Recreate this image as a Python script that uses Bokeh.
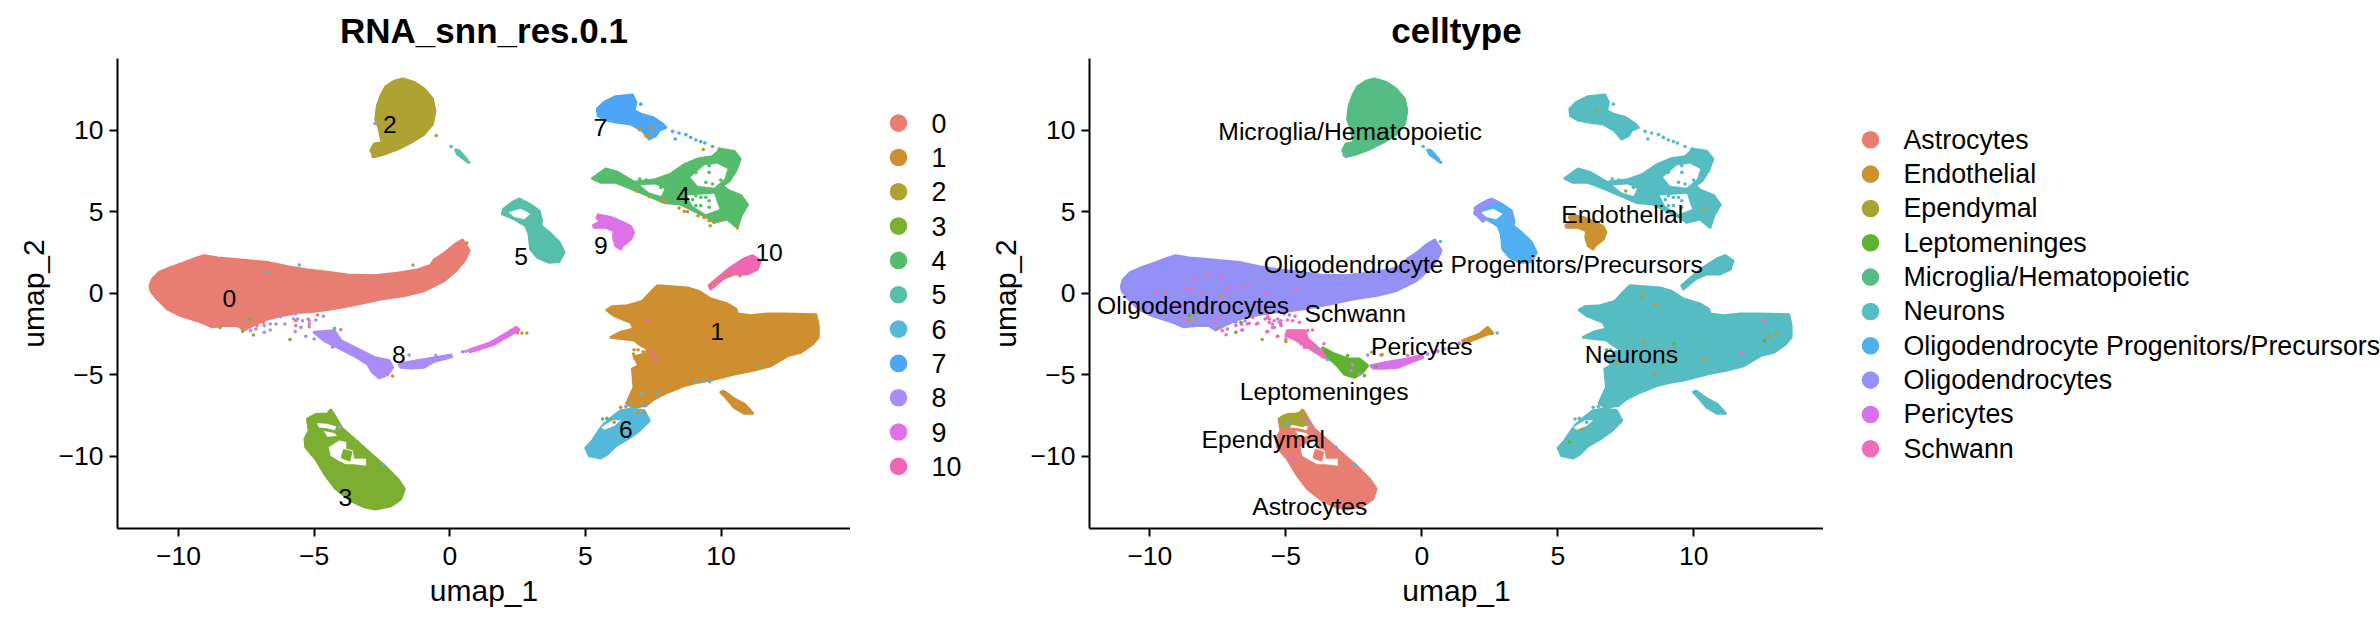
from bokeh.embed import file_html
from bokeh.resources import INLINE
from bokeh.plotting import figure
from bokeh.layouts import row
from bokeh.models import Range1d, FixedTicker
from bokeh.core.properties import value

FONT = "Liberation Sans"
X_TICKS = [-10, -5, 0, 5, 10]
Y_TICKS = [-10, -5, 0, 5, 10]

# ---- cluster outlines, in umap units ----
OUT_0 = [(-11.05,.46),(-10.96,.87),(-10.71,1.28),(-10.28,1.58),(-9.85,1.83),(-9.42,2.10),(-9.06,2.30),(-8.56,2.16),(-7.70,2.03),(-6.72,1.89),(-5.98,1.63),(-5.25,1.42),(-4.51,1.28),(-3.77,1.11),(-2.79,1.07),(-1.93,1.22),(-1.19,1.42),(-.72,1.69),(-.58,2.03),(-.15,2.51),(.22,3.02),(.47,3.26),(.71,2.61),(.53,1.99),(.22,1.38),(-.21,.77),(-.95,.15),(-1.68,-.15),(-2.54,-.36),(-3.40,-.66),(-4.39,-.97),(-5.00,-1.11),(-5.61,-1.18),(-6.23,-1.38),(-6.72,-1.58),(-7.21,-1.93),(-7.58,-2.26),(-7.83,-1.99),(-8.32,-1.99),(-8.75,-2.06),(-9.30,-1.69),(-9.92,-1.38),(-10.41,-.97),(-10.78,-.36),(-11.02,.15)]
OUT_1 = [(5.79,-1.03),(5.99,-.83),(6.55,-.77),(7.10,-.50),(7.41,.05),(7.65,.46),(8.15,.40),(8.76,.32),(9.19,.11),(9.62,-.36),(10.23,-.66),(10.54,-.97),(10.60,-1.28),(11.10,-1.38),(11.71,-1.28),(12.32,-1.28),(13.49,-1.32),(13.58,-1.99),(13.58,-2.71),(13.37,-3.12),(12.94,-3.63),(12.45,-3.83),(11.83,-4.45),(11.22,-4.71),(10.48,-4.96),(9.62,-5.33),(9.13,-5.47),(8.64,-5.67),(8.02,-6.08),(7.53,-6.49),(7.22,-6.90),(6.73,-7.0),(6.52,-6.76),(6.79,-5.78),(6.73,-4.65),(6.98,-4.45),(6.79,-3.90),(7.22,-3.73),(7.29,-3.43),(6.98,-3.12),(6.79,-2.87),(5.94,-2.71),(6.30,-2.40),(6.79,-2.20),(6.67,-1.79),(6.06,-1.38)]
OUT_1B = [(9.99,-6.08),(10.09,-6.02),(10.48,-6.49),(10.85,-6.80),(11.16,-7.37),(10.85,-7.37),(10.48,-7.0),(10.23,-6.49)]
OUT_2 = [(-2.54,12.12),(-2.36,12.67),(-2.05,13.0),(-1.74,13.14),(-1.31,12.93),(-.95,12.53),(-.64,11.91),(-.55,11.2),(-.64,10.38),(-.95,9.76),(-1.44,9.25),(-1.93,8.84),(-2.48,8.5),(-2.79,8.38),(-2.91,8.74),(-2.79,9.15),(-2.48,9.25),(-2.54,9.52),(-2.60,10.07),(-2.73,10.68),(-2.67,11.5)]
OUT_3 = [(-5.25,-7.72),(-4.94,-7.45),(-4.51,-7.41),(-4.39,-7.17),(-4.29,-7.41),(-3.96,-8.33),(-3.46,-9.05),(-2.91,-9.87),(-2.42,-10.58),(-1.93,-11.40),(-1.68,-12.01),(-1.81,-12.63),(-2.17,-13.04),(-2.73,-13.24),(-3.16,-13.10),(-3.65,-12.73),(-4.20,-12.01),(-4.57,-11.20),(-4.94,-10.17),(-5.31,-9.46),(-5.34,-8.95),(-5.18,-8.44),(-5.22,-8.03)]
OUT_4 = [(5.26,7.04),(5.75,7.62),(6.18,7.41),(6.49,7.11),(6.79,6.80),(7.53,6.94),(8.15,7.31),(8.64,7.88),(9.13,8.23),(9.68,8.37),(9.99,8.84),(10.48,8.70),(10.70,8.23),(10.54,7.52),(10.30,6.90),(10.05,6.60),(10.23,6.33),(10.73,5.98),(10.97,5.43),(10.73,4.75),(10.60,4.04),(10.23,4.55),(9.74,4.35),(9.50,4.65),(9.01,5.06),(8.51,5.47),(7.90,5.57),(7.47,5.88),(7.04,6.19),(6.55,6.53),(6.12,6.80),(5.57,6.80)]
OUT_5 = [(1.98,5.16),(2.31,5.57),(2.56,5.78),(2.92,5.47),(3.29,5.06),(3.38,4.45),(3.35,4.14),(3.72,3.63),(4.03,3.12),(4.21,2.50),(4.03,1.95),(3.66,1.89),(3.23,2.20),(2.98,2.71),(2.92,3.63),(2.80,4.14),(2.49,4.45),(2.25,4.65),(1.94,4.86)]
OUT_5B = [(.22,8.78),(.34,8.74),(.63,8.19),(.60,8.13),(.28,8.54)]
OUT_6 = [(5.01,-9.50),(5.26,-9.05),(5.50,-8.44),(5.69,-8.03),(6.06,-7.52),(6.30,-7.21),(6.73,-7.11),(7.16,-7.21),(7.35,-7.82),(6.98,-8.44),(6.55,-8.95),(6.12,-9.36),(5.81,-9.87),(5.56,-10.11),(5.14,-9.97)]
OUT_7 = [(5.44,11.30),(5.69,11.71),(6.12,12.06),(6.73,12.16),(6.86,11.71),(6.79,11.20),(7.04,10.99),(7.47,10.79),(7.84,10.38),(7.96,10.17),(7.72,10.01),(7.59,9.66),(7.35,9.46),(7.10,9.97),(6.67,10.38),(6.18,10.48),(5.75,10.62),(5.47,10.89)]
OUT_8_STEM = [(-5.00,-2.40),(-4.26,-2.30),(-4.02,-2.91),(-3.40,-3.43),(-2.79,-3.94),(-2.24,-4.14),(-2.11,-4.55),(-2.30,-5.0),(-2.60,-5.20),(-2.85,-4.86),(-3.03,-4.35),(-3.53,-3.83),(-4.14,-3.32),(-4.63,-2.91)]
OUT_8_TAIL = [(-1.87,-4.35),(-1.19,-4.14),(-.58,-3.98),(.04,-3.79),(.06,-3.90),(-.58,-4.18),(-.95,-4.55),(-1.44,-4.59),(-1.81,-4.55)]
OUT_9_LINE = [(.7,-3.5),(1.5,-3.05),(2.45,-2.1),(2.55,-2.25),(1.6,-3.15),(.75,-3.6)]
OUT_9 = [(5.47,4.80),(5.93,4.65),(6.36,4.35),(6.67,4.08),(6.77,3.73),(6.67,3.32),(6.36,2.91),(6.30,2.71),(6.12,2.91),(6.03,3.43),(6.06,3.83),(5.75,4.04),(5.32,4.04),(5.30,4.18),(5.54,4.35),(5.42,4.65)]
OUT_10 = [(9.56,.46),(9.99,1.07),(10.36,1.58),(10.85,2.10),(11.16,2.30),(11.44,1.99),(11.34,1.48),(10.97,1.18),(10.48,1.18),(10.05,.87),(9.62,.26)]

# celltype panel: sub-parts of the same clouds
SUB_SCHWANN = [(-4.94,-2.30),(-4.32,-2.30),(-4.20,-2.81),(-3.71,-3.53),(-3.40,-4.04),(-3.59,-3.94),(-4.08,-3.43),(-4.69,-2.81),(-5.0,-2.61)]
SUB_LEPTO = [(-3.65,-3.36),(-3.22,-3.73),(-2.73,-4.04),(-2.30,-4.04),(-1.99,-4.45),(-2.18,-4.86),(-2.48,-5.16),(-2.85,-4.96),(-3.10,-4.45),(-3.40,-3.98)]
SUB_PERI = [(-1.87,-4.45),(-1.26,-4.24),(-.52,-4.04),(-.03,-3.83),(.03,-3.94),(-.52,-4.30),(-.89,-4.55),(-1.38,-4.61),(-1.81,-4.59)]
SUB_ENDO_TAIL = [(1.50,-2.91),(2.12,-2.51),(2.42,-2.10),(2.61,-2.46),(2.42,-2.51),(2.18,-2.67),(1.56,-3.08)]
SUB_EPEND = [(-5.24,-7.72),(-5.06,-7.52),(-4.69,-7.46),(-4.51,-7.37),(-4.32,-7.52),(-4.20,-7.99),(-4.38,-8.13),(-4.75,-7.99),(-5.06,-8.23),(-5.15,-8.07)]
SUB_OLIGO_ARC = [(1.96,5.23),(2.18,5.47),(2.49,5.73),(2.73,5.63),(2.49,5.47),(2.24,5.27),(2.12,4.86),(2.36,4.55),(2.24,4.41),(1.99,4.86)]

# empty regions inside the clouds
HOLE_3A = [(-4.88,-7.99),(-4.51,-8.03),(-4.20,-8.19),(-4.24,-8.39),(-4.53,-8.27),(-4.82,-8.23)]
HOLE_3C = [(-4.63,-8.48),(-4.26,-8.60),(-4.17,-8.74),(-4.51,-8.80)]
HOLE_3B = [(-4.45,-9.46),(-4.08,-9.05),(-3.83,-9.15),(-3.83,-9.56),(-3.59,-9.66),(-3.53,-10.17),(-3.10,-10.17),(-3.10,-10.58),(-3.53,-10.48),(-3.83,-10.48),(-4.08,-10.28),(-4.39,-9.97)]
HOLE_4A = [(8.88,7.11),(9.37,7.82),(9.86,7.93),(10.23,7.62),(10.11,7.0),(9.74,6.49),(9.13,6.60)]
HOLE_4B = [(8.76,5.98),(9.74,6.08),(9.93,5.16),(9.44,4.86),(8.95,5.37)]
HOLE_4C = [(7.04,6.60),(7.59,6.66),(7.90,6.39),(7.78,5.98),(7.35,6.19)]
HOLE_5 = [(2.19,4.96),(2.62,5.16),(2.96,4.86),(2.74,4.55),(2.37,4.69)]
HOLE_6 = [(5.59,-8.23),(5.99,-7.82),(6.28,-7.82),(6.06,-8.13),(5.69,-8.37)]
HOLES = [HOLE_3A, HOLE_3B, HOLE_3C, HOLE_4A, HOLE_4B, HOLE_4C, HOLE_5, HOLE_6]
ISLAND_3 = [(-3.89,-9.66),(-3.65,-9.77),(-3.71,-10.23),(-3.96,-10.07)]

# ---- scattered single cells ----
DOTS_8 = [(-7.34,-2.30),(-7.15,-2.20),(-6.84,-2.40),(-6.62,-2.26),(-6.84,-1.99),(-6.62,-1.89),(-6.41,-1.89),(-6.08,-1.89),(-6.25,-1.44),(-5.68,-1.28),(-5.61,-1.58),(-5.76,-1.58),(-5.43,-1.69),(-5.18,-1.69),(-4.94,-1.65),(-4.66,-1.42),(-5.18,-1.89),(-5.70,-2.36),(-5.49,-2.10),(-5.31,-2.65),(-5.00,-2.81),(-4.32,-3.32),(-1.50,-3.79),(-.52,-3.83),(.47,-3.59),(.59,-3.57)]
DOTS_0 = [(-6.87,-1.79),(-7.11,-1.99),(-5.68,-1.69),(-5.22,-1.58),(-4.88,-1.34),(-4.02,-2.24),(-5.68,-1.99),(-5.18,-2.06)]
DOTS_3 = [(-8.47,-2.10),(-7.64,-2.34),(-7.24,-2.57),(-5.89,-2.85),(-7.37,-1.61)]
DOTS_5 = [(-5.55,1.73),(-6.71,1.28),(-4.25,-2.16),(-2.44,-10.55),(.05,9.0),(.69,8.03)]
DOTS_2 = [(-1.36,1.73),(-.50,9.68)]
DOTS_1 = [(-2.11,-5.09),(.63,3.08),(2.49,-2.44),(2.66,-2.44),(2.84,-2.44),(7.0,10.03),(7.22,9.66),(7.35,9.6),(7.43,10.17),(9.34,8.82),(7.35,5.92),(7.78,5.67),(7.96,5.63),(8.45,5.22),(8.64,5.02),(8.76,5.0),(9.15,4.75),(9.37,4.65),(9.56,4.45),(9.74,4.35),(9.60,4.14),(9.99,4.49),(10.60,4.02),(6.89,6.25),(9.62,.46),(9.81,.77),(10.12,1.03),(10.36,1.11),(10.70,1.07),(6.79,-3.47),(6.94,-3.47),(7.13,-3.59),(6.77,-3.73),(6.30,-7.0),(6.49,-6.96),(6.86,-6.84),(6.92,-7.31),(7.14,-7.31),(6.06,-7.92)]
DOTS_7 = [(7.04,11.6),(8.21,9.93),(8.45,9.83),(8.31,9.46),(8.70,9.73),(8.88,9.56),(9.07,9.4),(9.25,9.3),(9.40,9.21),(6.61,-6.80),(7.19,-6.90)]
DOTS_4 = [(9.56,7.82),(9.56,7.41),(9.07,7.41),(9.68,6.70),(9.99,6.94),(9.44,6.80),(9.07,5.98),(9.25,5.88),(8.95,5.74),(9.56,5.67),(9.07,5.37),(9.25,5.37),(9.56,5.27),(9.44,5.88),(7.0,7.0),(7.24,6.94),(7.63,6.74),(7.78,6.49),(9.68,9.0),(9.93,8.84),(5.63,-7.72),(5.79,-7.68),(5.94,-7.72),(11.4,-4.55)]
DOTS_6 = [(9.58,-5.43),(9.31,-5.31),(9.07,-5.47),(7.08,-6.19),(7.63,-6.13)]
DOTS_10 = [(7.29,-1.69),(7.38,-3.57),(7.53,-3.83),(7.59,-4.14)]
DOTS_8B = [(-2.75,10.42),(-4.05,-8.23)]
DOTS_0B = [(-2.83,8.39)]

DOTS_SCHWANN = [(-8.37,.87),(-7.88,1.18),(-7.39,.97),(-8.68,.26),(-8.49,.26),(-8.06,-.05),(-7.17,.15),(-7.05,.52),(-6.68,.40),(-6.43,.42),(-5.73,-.01),(-4.63,.21),(-9.72,.05),(-9.41,.05),(-9.04,-.66),(-8.74,-.83),(-8.80,-1.58),(-8.06,-.77),(-7.39,-.56),(-8.62,-1.69),(-7.69,-1.69),(-7.51,-1.58),(-7.2,-2.55),(-6.59,-2.26),(-6.63,-1.89),(-6.35,-1.85),(-6.04,-1.85),(-6.22,-1.48),(-5.67,-1.48),(-5.61,-1.79),(-5.30,-1.58),(-5.06,-1.28),(-4.75,-1.69),(-4.50,-1.79),(-5.18,-1.99),(-5.43,-2.10),(-5.67,-2.36),(-5.30,-2.65),(-4.02,-2.26),(-4.20,-2.30),(-4.44,-3.12),(-4.26,-3.32),(12.57,-1.71),(11.76,-3.66),(-4.78,-10.07),(-4.36,-7.75),(-3.6,-3.1)]
DOTS_OLIGO = [(-6.84,-1.79),(-5.49,-1.89),(-5.24,-1.79),(-4.87,-1.34),(-1.99,-3.79),(-2.85,8.47),(-3.95,-8.49),(-4.14,-7.93),(-3.16,-9.46),(-6.5,-1.7)]
DOTS_LEPTO = [(-6.65,-1.79),(-8.55,-1.38),(-8.27,-1.18),(-2.73,-3.83),(-2.11,-5.06),(-1.69,-4.51),(-3.10,-3.83),(8.87,-4.32),(9.27,-3.1),(12.6,-2.93),(5.43,-9.15)]
DOTS_EPEND = [(-6.84,-2.40),(-5.87,-2.85),(-8.31,-1.58),(-5.0,-2.96),(-4.36,-7.25),(6.44,11.18)]
DOTS_ENDO = [(-8.55,-1.69),(-7.51,-2.14),(-7.39,-.15),(-1.84,-3.63),(-1.46,-3.77),(8.07,-.2),(8.6,-.73),(8.13,-3.0),(7.16,-4.32),(8.55,-4.96),(10.35,-4.1),(10.39,5.2),(7.5,6.27),(12.76,-2.64),(13.03,-2.51),(5.89,-8.37)]
DOTS_OPC = [(-9.46,1.54),(-2.45,-10.55),(-4.96,-7.99),(9.5,-2.76),(.05,9.0),(.69,8.03)]
DOTS_NEU = [(-3.46,-4.08),(-3.91,-3.43),(2.77,-2.44),(.68,3.17)]
DOTS_PERI = [(.83,-3.43),(1.38,-3.08),(.52,-3.53),(.21,-3.73),(3.25,4.79),(5.34,4.08),(-2.6,-4.75),(-2.3,-5.0),(-2.55,-4.4)]

# ---- legends and labels ----
CLUSTERS = ["0","1","2","3","4","5","6","7","8","9","10"]
CLUSTER_COLORS = ["#E87D72","#CF8F30","#AEA232","#7CAE32","#55BC6B","#57BFA9","#53B8DA","#4DA5F6","#A98CF6","#DE71E7","#EF67B2"]
CLUSTER_LABEL_X = [-8.13,9.85,-2.21,-3.85,8.60,2.63,6.49,5.55,-1.88,5.57,11.77]
CLUSTER_LABEL_Y = [-.32,-2.37,10.38,-12.52,5.98,2.25,-8.37,10.18,-3.74,2.93,2.51]

CELLTYPES = ["Astrocytes","Endothelial","Ependymal","Leptomeninges","Microglia/Hematopoietic","Neurons","Oligodendrocyte Progenitors/Precursors","Oligodendrocytes","Pericytes","Schwann"]
CELL_COLORS = ["#E87D72","#CC9230","#A4A62F","#5FB22F","#55BC83","#55BCC2","#4FAFF0","#9590F5","#D871EB","#EE6CB8"]
CELL_LABEL_X = [-4.12,7.37,-5.83,-3.59,-2.64,7.71,2.26,-8.41,0.0,-2.45]
CELL_LABEL_Y = [-13.11,4.81,-8.96,-6.03,9.94,-3.74,1.78,-.78,-3.30,-1.22]

C = dict(zip(CLUSTERS, CLUSTER_COLORS))
AST, END, EPE, LEP, MIC, NEU, OPC, OLI, PER, SCH = CELL_COLORS

LEFT_SHAPES = [(OUT_0,C["0"]),(OUT_1,C["1"]),(OUT_1B,C["1"]),(OUT_2,C["2"]),(OUT_3,C["3"]),(OUT_4,C["4"]),(OUT_5,C["5"]),(OUT_5B,C["5"]),(OUT_6,C["6"]),(OUT_7,C["7"]),(OUT_8_STEM,C["8"]),(OUT_8_TAIL,C["8"]),(OUT_9_LINE,C["9"]),(OUT_9,C["9"]),(OUT_10,C["10"])]
LEFT_OVER = [(ISLAND_3,C["3"])]
LEFT_DOTS = [(DOTS_8,C["8"]),(DOTS_0,C["0"]),(DOTS_3,C["3"]),(DOTS_5,C["5"]),(DOTS_2,C["2"]),(DOTS_1,C["1"]),(DOTS_7,C["7"]),(DOTS_4,C["4"]),(DOTS_6,C["6"]),(DOTS_10,C["10"]),(DOTS_8B,C["8"]),(DOTS_0B,C["0"])]
RIGHT_SHAPES = [(OUT_0,OLI),(OUT_1,NEU),(OUT_1B,NEU),(OUT_2,MIC),(OUT_3,AST),(OUT_4,NEU),(OUT_5,OPC),(OUT_5B,OPC),(OUT_6,NEU),(OUT_7,NEU),(SUB_SCHWANN,SCH),(SUB_LEPTO,LEP),(SUB_PERI,PER),(SUB_ENDO_TAIL,END),(OUT_9,END),(OUT_10,NEU)]
RIGHT_OVER = [(ISLAND_3,AST),(SUB_EPEND,EPE),(SUB_OLIGO_ARC,OLI)]
RIGHT_DOTS = [(DOTS_8,SCH),(DOTS_4,NEU),(DOTS_7,NEU),(DOTS_1[29:],NEU),(DOTS_SCHWANN,SCH),(DOTS_OLIGO,OLI),(DOTS_LEPTO,LEP),(DOTS_EPEND,EPE),(DOTS_ENDO,END),(DOTS_OPC,OPC),(DOTS_NEU,NEU),(DOTS_PERI,PER)]

HEIGHT = 610
FRAME_TOP = 58
FRAME_BOTTOM = 528


def panel(title, width, border_left, x_range, shapes, over, dots, names, lx, ly):
    p = figure(width=width, height=HEIGHT, output_backend="svg", toolbar_location=None,
               x_range=Range1d(*x_range), y_range=Range1d(-14.44, 14.4),
               min_border_left=border_left, min_border_right=0,
               min_border_top=FRAME_TOP, min_border_bottom=HEIGHT - FRAME_BOTTOM, outline_line_color=None,
               x_axis_label="umap_1", y_axis_label="umap_2", background_fill_color="white")
    p.grid.visible = False
    p.title.text = title
    p.title.align = "center"
    p.title.vertical_align = "top"
    p.title.text_font = FONT
    p.title.text_font_size = "35px"
    p.title.text_font_style = "bold"
    p.title.text_color = "black"
    p.title.standoff = 13
    p.xaxis.ticker = FixedTicker(ticks=X_TICKS)
    p.yaxis.ticker = FixedTicker(ticks=Y_TICKS)
    for ax in (p.xaxis[0], p.yaxis[0]):
        ax.axis_line_width = 2
        ax.axis_line_color = "black"
        ax.major_tick_line_width = 2
        ax.major_tick_line_color = "black"
        ax.major_tick_out = 8
        ax.major_tick_in = 0
        ax.minor_tick_out = 0
        ax.minor_tick_in = 0
        ax.major_label_text_font = FONT
        ax.major_label_text_font_size = "26.5px"
        ax.major_label_text_color = "black"
        ax.axis_label_text_font = FONT
        ax.axis_label_text_font_size = "30px"
        ax.axis_label_text_font_style = "normal"
        ax.axis_label_text_color = "black"
        ax.axis_label_standoff = 6
    p.xaxis[0].major_label_standoff = 10
    p.yaxis[0].major_label_standoff = 6

    def shape(pts, col):
        p.patch([q[0] for q in pts], [q[1] for q in pts], fill_color=col,
                line_color=col, line_width=3, line_join="round")

    for pts, col in shapes:
        shape(pts, col)
    for pts in HOLES:
        p.patch([q[0] for q in pts], [q[1] for q in pts], fill_color="white",
                line_color="white", line_width=0.5)
    for pts, col in over:
        shape(pts, col)
    for pts, col in dots:
        p.scatter([q[0] for q in pts], [q[1] for q in pts], size=3.6, color=col, line_color=None)

    p.text(lx, ly, text=names, text_font=value(FONT), text_font_size=value("24.7px"),
           text_align="center", text_baseline="middle", text_color="black")
    return p


def legend(width, names, colors, dot_x, text_x, first_row_px):
    pitch = 34.33
    rows = list(range(len(names)))
    p = figure(width=width, height=HEIGHT, output_backend="svg", toolbar_location=None,
               x_range=Range1d(0, width),
               y_range=Range1d((FRAME_BOTTOM - first_row_px) / pitch, (FRAME_TOP - first_row_px) / pitch),
               x_axis_location=None, y_axis_location=None, outline_line_color=None,
               min_border_left=0, min_border_right=0, min_border_top=FRAME_TOP,
               min_border_bottom=HEIGHT - FRAME_BOTTOM, background_fill_color="white")
    p.grid.visible = False
    p.scatter([dot_x] * len(rows), rows, size=17.6, color=colors, line_color=None)
    p.text([text_x] * len(rows), rows, text=names, text_font=value(FONT), text_font_size=value("26.8px"),
           text_align="left", text_baseline="middle", text_color="black")
    return p


p1 = panel("RNA_snn_res.0.1", 850, 117, (-12.25, 14.77), LEFT_SHAPES, LEFT_OVER, LEFT_DOTS,
           CLUSTERS, CLUSTER_LABEL_X, CLUSTER_LABEL_Y)
l1 = legend(135, CLUSTERS, CLUSTER_COLORS, 48, 81, 122.6)
p2 = panel("celltype", 838, 104, (-12.22, 14.77), RIGHT_SHAPES, RIGHT_OVER, RIGHT_DOTS,
           CELLTYPES, CELL_LABEL_X, CELL_LABEL_Y)
l2 = legend(557, CELLTYPES, CELL_COLORS, 47, 80, 139.3)
page = row(p1, l1, p2, l2)
open("out.html", "w").write(file_html(page, INLINE))
